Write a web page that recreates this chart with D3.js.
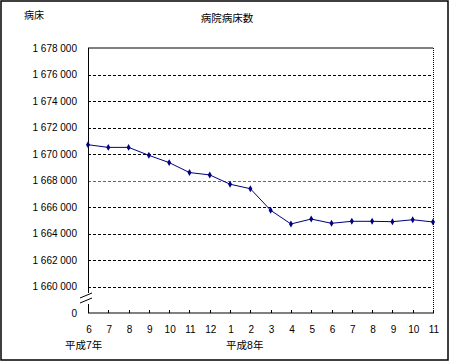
<!DOCTYPE html>
<html><head><meta charset="utf-8">
<script src="https://cdn.jsdelivr.net/npm/d3@7"></script>
<style>
body{margin:0;background:#fff;}
text{font-family:"Liberation Sans","Noto Sans CJK JP",sans-serif;fill:#000;}
</style></head><body>
<svg id="c" width="450" height="362"></svg>
<script>
const months = ["6","7","8","9","10","11","12","1","2","3","4","5","6","7","8","9","10","11"];
const beds = [1670700,1670500,1670500,1669900,1669350,1668600,1668420,1667720,1667380,1665750,1664720,1665090,1664770,1664920,1664920,1664890,1665040,1664870];
const yTicks = [1660000,1662000,1664000,1666000,1668000,1670000,1672000,1674000,1676000,1678000];
const yearLabels = [{idx:0,text:"平成7年"},{idx:7,text:"平成8年"}];
const title = "病院病床数";
const unit = "病床";

const svg = d3.select("#c");
const L=88, R=433, T=48, B=313;
const yMin = 1658000, yMax = 1678000;
const x = d3.scalePoint().domain(d3.range(months.length)).range([L,R]);
const y = d3.scaleLinear().domain([yMin,yMax]).range([B,T]);
const fmt = d3.formatLocale({decimal:".",thousands:" ",grouping:[3]}).format(",d");

// outer frame
svg.append("rect").attr("x",1).attr("y",1).attr("width",447).attr("height",359)
  .attr("fill","none").attr("stroke","#000").attr("stroke-width",1.5);

// gridlines
svg.append("g").selectAll("line").data(yTicks.slice(0,-1)).join("line")
  .attr("x1",L).attr("x2",R).attr("y1",d=>Math.round(y(d))+0.5).attr("y2",d=>Math.round(y(d))+0.5)
  .attr("stroke",d=>d===1668000?"#666":"#000").attr("stroke-width",1).attr("stroke-dasharray","3,2");

// top border gray
svg.append("line").attr("x1",L).attr("x2",R).attr("y1",y(yMax)).attr("y2",y(yMax))
  .attr("stroke","#808080").attr("stroke-width",2);
// right border
svg.append("line").attr("x1",R+0.5).attr("x2",R+0.5).attr("y1",T).attr("y2",B)
  .attr("stroke","#000").attr("stroke-width",1).attr("stroke-dasharray","1,1");
// bottom axis
svg.append("line").attr("x1",L).attr("x2",R+1).attr("y1",B).attr("y2",B)
  .attr("stroke","#808080").attr("stroke-width",2);
// x ticks
svg.append("g").selectAll("line").data(d3.range(1,months.length)).join("line")
  .attr("x1",d=>Math.round(x(d))+0.5).attr("x2",d=>Math.round(x(d))+0.5).attr("y1",B-3).attr("y2",B)
  .attr("stroke","#000");

// left axis with break
svg.append("line").attr("x1",L+0.5).attr("x2",L+0.5).attr("y1",T).attr("y2",293).attr("stroke","#000");
svg.append("line").attr("x1",L+0.5).attr("x2",L+0.5).attr("y1",304).attr("y2",B).attr("stroke","#000");
svg.append("line").attr("x1",80).attr("y1",298).attr("x2",92).attr("y2",293).attr("stroke","#000");
svg.append("line").attr("x1",80).attr("y1",303).attr("x2",92).attr("y2",298).attr("stroke","#000");

// y labels
svg.append("g").selectAll("text").data(yTicks).join("text")
  .attr("x",77).attr("y",d=>y(d)).attr("dy","0.35em").attr("text-anchor","end")
  .attr("font-size",10).text(d=>fmt(d));
svg.append("text").attr("x",77).attr("y",y(yMin)).attr("dy","0.35em").attr("text-anchor","end")
  .attr("font-size",10).text("0");

// x labels
svg.append("g").selectAll("text").data(months).join("text")
  .attr("x",(d,i)=>x(i)+1).attr("y",329).attr("dy","0.35em").attr("text-anchor","middle")
  .attr("font-size",10).text(d=>d);
svg.append("g").selectAll("text").data(yearLabels).join("text")
  .attr("x",(d,i)=>x(d.idx)+(i===0?-23:-4)).attr("y",345).attr("dy","0.35em")
  .attr("font-size",10.5).text(d=>d.text);

// title & unit
svg.append("text").attr("x",227).attr("y",18).attr("dy","0.35em").attr("text-anchor","middle")
  .attr("font-size",10.5).text(title);
svg.append("text").attr("x",24).attr("y",15).attr("dy","0.35em")
  .attr("font-size",10).text(unit);

// line
svg.append("path").datum(beds)
  .attr("d",d3.line().x((d,i)=>x(i)).y(d=>y(d)))
  .attr("fill","none").attr("stroke","#000080").attr("stroke-width",1);
svg.append("g").selectAll("path").data(beds).join("path")
  .attr("transform",(d,i)=>`translate(${x(i)},${y(d)})`)
  .attr("d",d3.symbol(d3.symbolDiamond,14)())
  .attr("fill","#000080");
</script></body></html>
